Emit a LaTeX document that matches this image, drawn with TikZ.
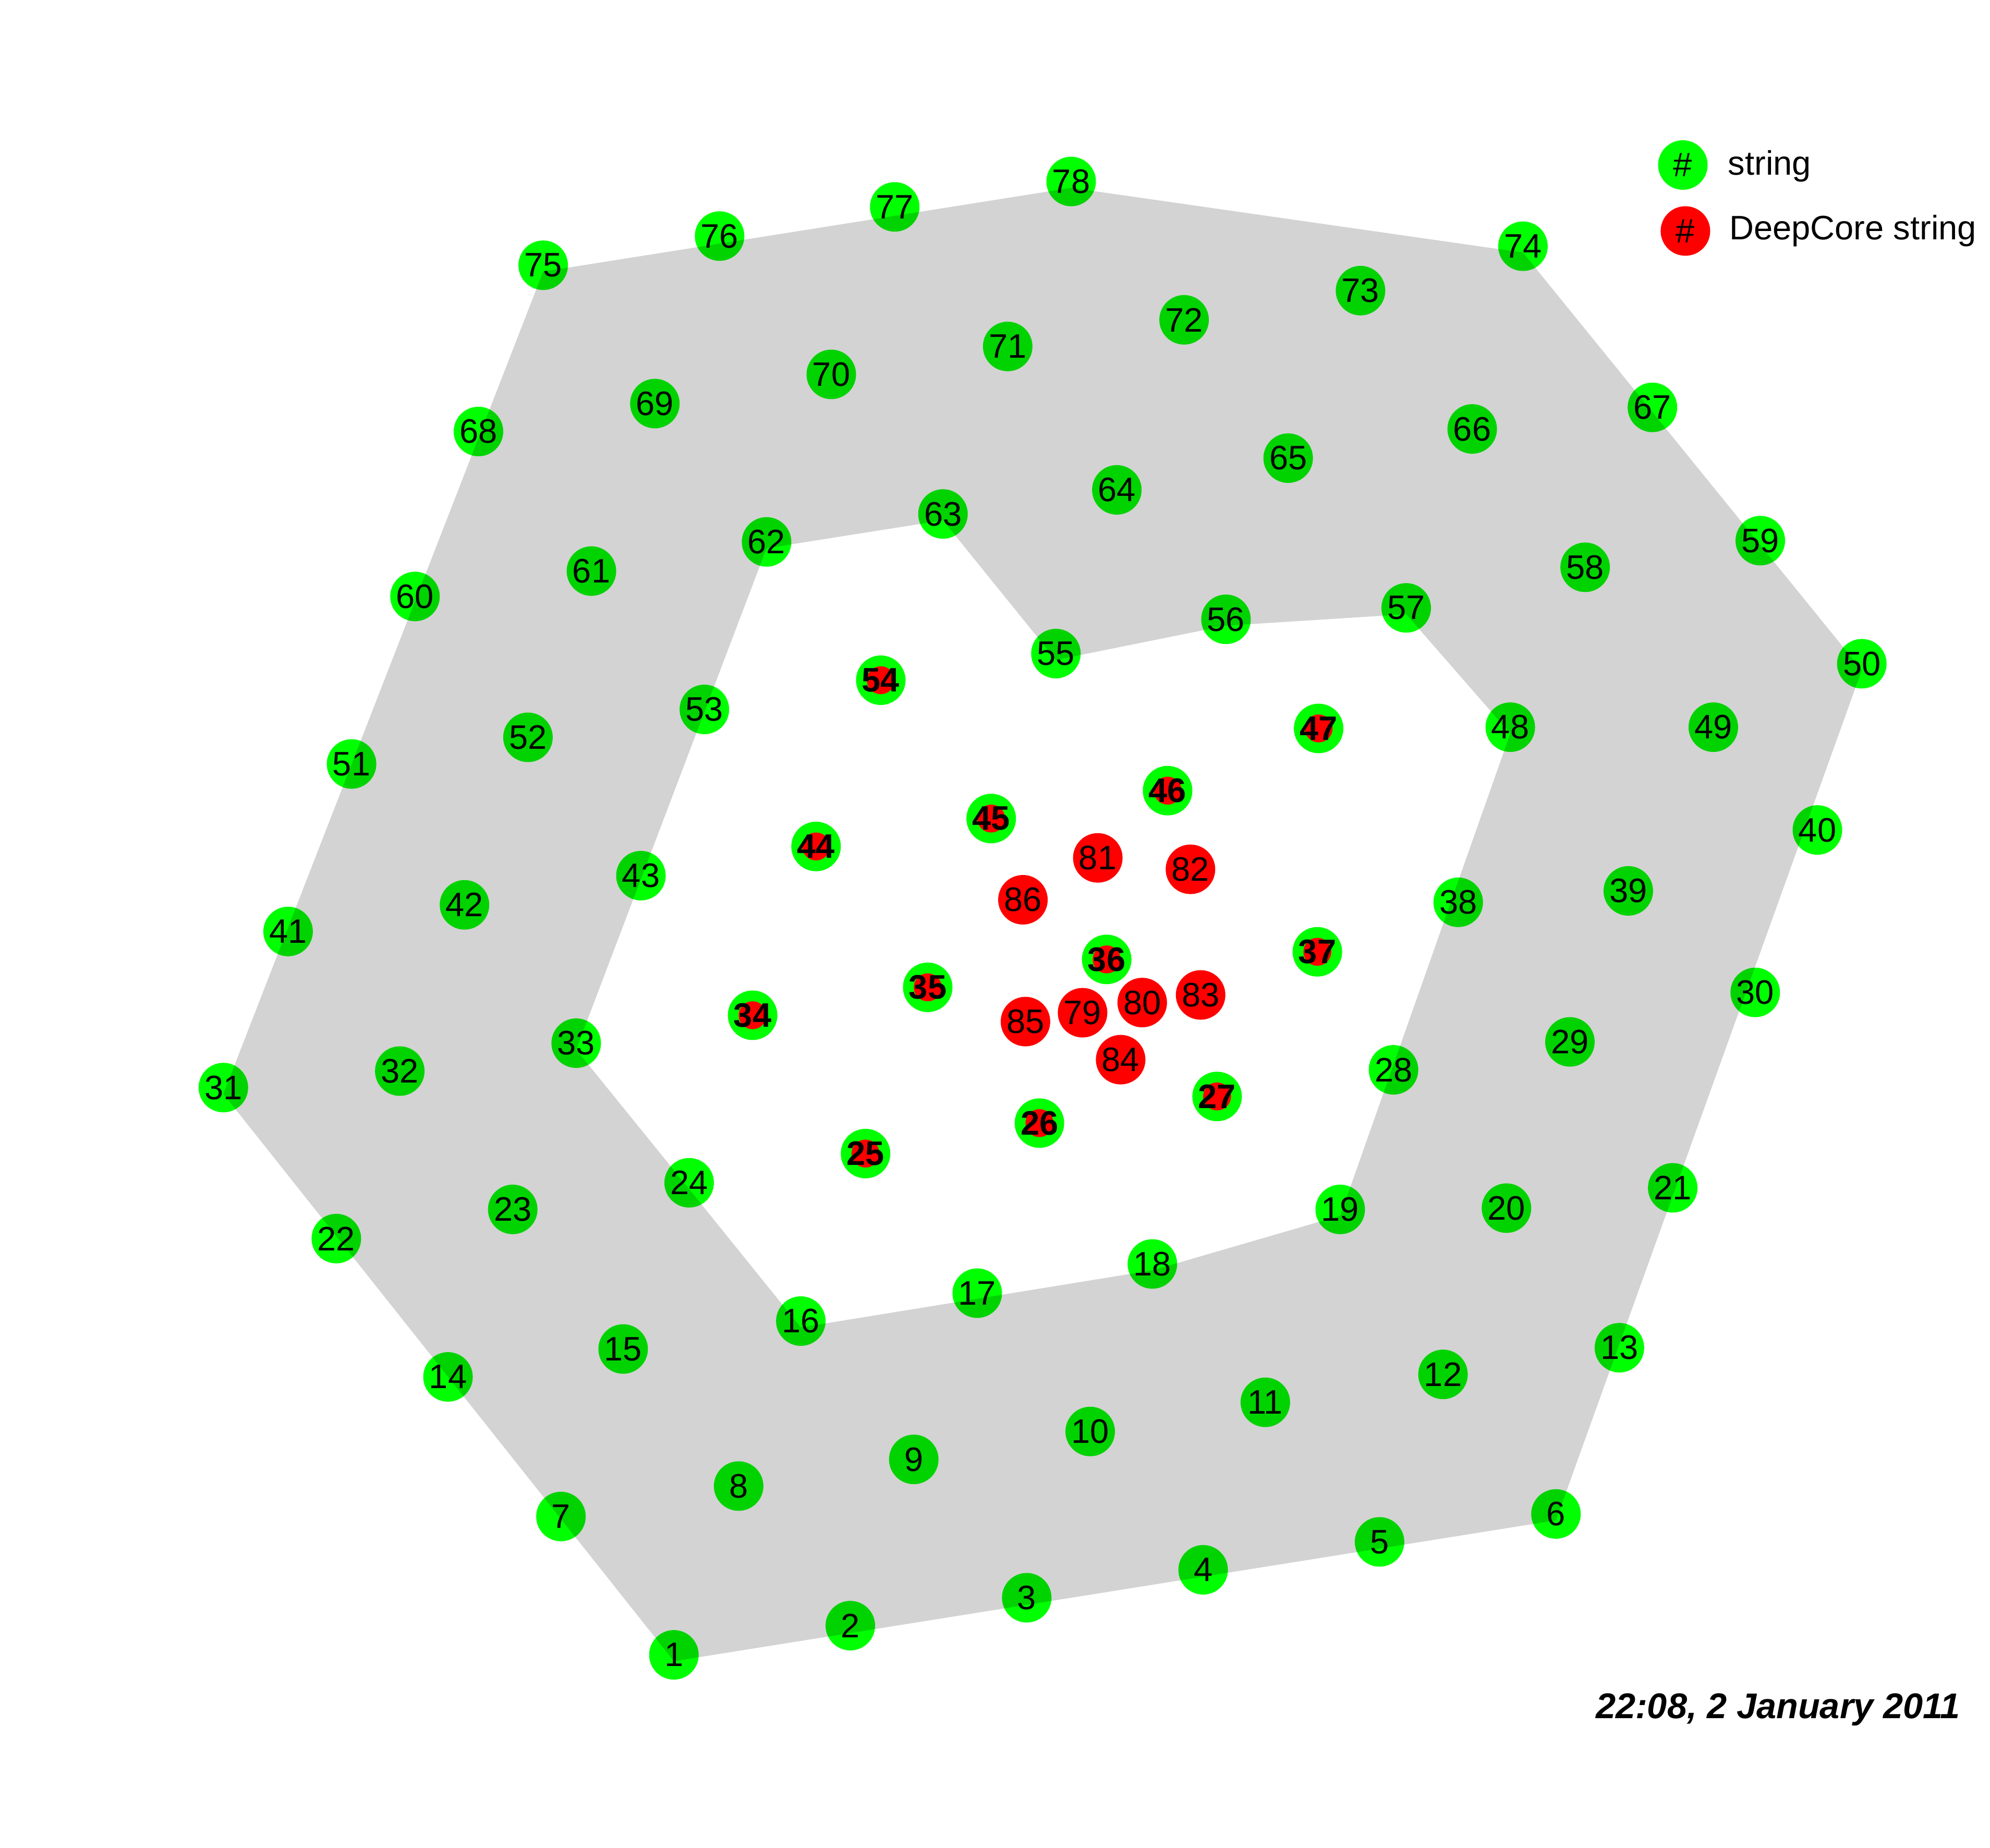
\documentclass[tikz,border=0pt]{standalone}
\usepackage{fontspec}
\setmainfont{Liberation Sans}
\definecolor{sgreen}{RGB}{0,255,0}
\definecolor{sred}{RGB}{255,0,0}
\definecolor{lgray}{RGB}{211,211,211}
\begin{document}
\begin{tikzpicture}[x=0.01cm,y=-0.01cm,
  lab/.style={font=\fontsize{7.6}{9}\selectfont},
  gn/.style={circle,fill=sgreen,minimum size=0.39cm,inner sep=0pt,lab},
  rn/.style={circle,fill=sred,minimum size=0.39cm,inner sep=0pt,lab},
  gdn/.style={gn,font=\bfseries\fontsize{7.6}{9}\selectfont,
    path picture={\fill[sred] (path picture bounding box.center) circle (0.11cm);}},
  legtext/.style={anchor=west,inner sep=0pt,font=\fontsize{7.6}{9}\selectfont}]
\useasboundingbox (0,0) rectangle (1568,1456);
% green strings
\foreach \n/\x/\y in {1/531/1304,2/670/1281,3/809/1259,4/948/1237,5/1087/1215,6/1226/1193,
  7/442/1195,8/582/1171,9/720/1150,10/859/1128,11/997/1105,12/1137/1083,13/1276/1062,
  14/353/1085,15/491/1063,16/631/1041,17/770/1019,18/908/996,19/1056/953,20/1187/952,21/1318/936,
  22/265/976,23/404/953,24/543/932,28/1098/843,29/1237/821,30/1383/782,
  31/176/857,32/315/844,33/454/822,38/1149/711,39/1283/702,40/1432/654,
  41/227/734,42/366/713,43/505/690,48/1190/573,49/1350/573,50/1467/523,
  51/277/602,52/416/581,53/555/559,55/832/515,56/966/488,57/1108/479,58/1249/447,59/1387/426,
  60/327/470,61/466/450,62/604/427,63/743/405,64/880/386,65/1015/361,66/1160/338,67/1302/321,
  68/377/340,69/516/318,70/655/295,71/794/273,72/933/252,73/1072/229,74/1200/194,
  75/428/209,76/567/186,77/705/163,78/844/143}
  \node[gn] (n\n) at (\x,\y) {\n};
% green strings with DeepCore instrumentation
\foreach \n/\x/\y in {25/682/909,26/819/885,27/959/864,34/593/800,35/731/778,36/872/756,
  37/1038/750,44/643/667,45/781/645,46/920/623,47/1039/574,54/694/536}
  \node[gdn] (n\n) at (\x,\y) {\n};
% DeepCore strings
\foreach \n/\x/\y in {79/853/798,80/900/790,81/865/676,82/938/685,83/946/784,
  84/883/835,85/808/805,86/806/709}
  \node[rn] (n\n) at (\x,\y) {\n};
% grey band (multiplied over the strings)
\begin{scope}[blend mode=multiply]
\fill[lgray,even odd rule]
  ([yshift=-0.05cm]n1.center) -- ([yshift=-0.05cm]n6.center) -- ([yshift=-0.05cm]n50.center)
  -- ([yshift=-0.05cm]n74.center) -- ([yshift=-0.05cm]n78.center) -- ([yshift=-0.05cm]n75.center)
  -- ([yshift=-0.05cm]n31.center) -- cycle
  ([yshift=-0.05cm]n16.center) -- ([yshift=-0.05cm]n18.center) -- ([yshift=-0.05cm]n19.center)
  -- ([yshift=-0.05cm]n48.center) -- ([yshift=-0.05cm]n57.center) -- ([yshift=-0.05cm]n56.center)
  -- ([yshift=-0.05cm]n55.center) -- ([yshift=-0.05cm]n63.center) -- ([yshift=-0.05cm]n62.center)
  -- ([yshift=-0.05cm]n33.center) -- ([yshift=-0.05cm]n24.center) -- cycle;
\end{scope}
% legend
\node[gn] (lg) at (1326,130) {\#};
\node[legtext] (lgt) at (1361,131) {string};
\node[rn] (lr) at (1328,182) {\#};
\node[legtext] (lrt) at (1362,182) {DeepCore string};
% date
\node[font=\bfseries\itshape\fontsize{8}{10}\selectfont] (date) at (1401,1347) {22:08, 2 January 2011};
\end{tikzpicture}
\end{document}
